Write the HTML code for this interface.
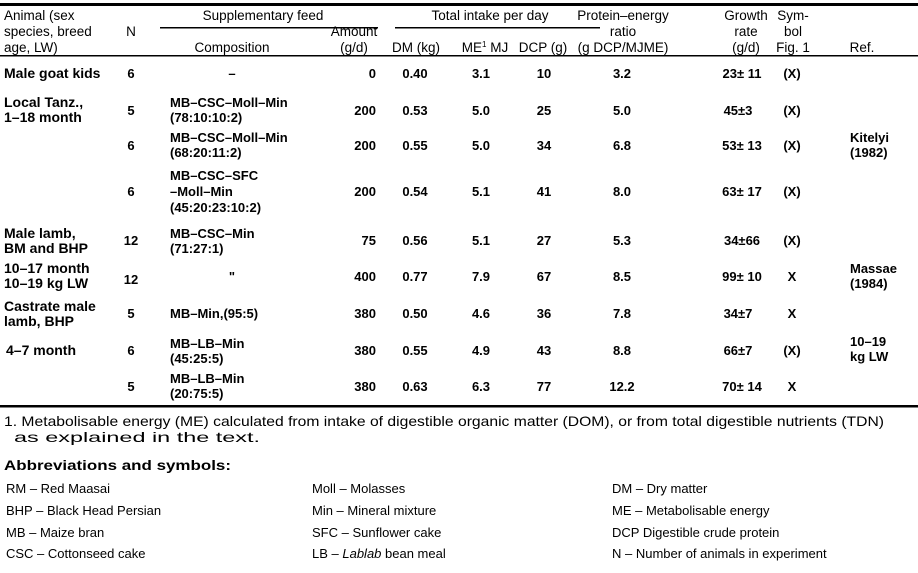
<!DOCTYPE html>
<html><head><meta charset="utf-8"><style>
html,body{margin:0;padding:0;background:#fff;width:918px;height:573px;overflow:hidden}
svg{display:block}
text{font-family:"Liberation Sans",Arial,sans-serif;fill:#000}
.t{font-size:13px;font-weight:bold}
.h{font-size:13.5px}
.f{font-size:13px}
.m{text-anchor:middle}
.e{text-anchor:end}
</style></head><body>
<svg width="918" height="573" viewBox="0 0 918 573">
<rect x="0" y="3" width="918" height="3" fill="#000"/>
<rect x="160" y="27" width="218" height="1.5" fill="#000"/>
<rect x="395" y="27" width="205" height="1.5" fill="#000"/>
<rect x="0" y="55" width="918" height="1.5" fill="#000"/>
<rect x="0" y="405" width="918" height="2.5" fill="#000"/>
<g class="h">
<text x="4" y="20">Animal (sex</text>
<text x="4" y="36">species, breed</text>
<text x="4" y="52">age, LW)</text>
<text x="131" y="36" class="m">N</text>
<text x="263" y="20" class="m">Supplementary feed</text>
<text x="232" y="52" class="m">Composition</text>
<text x="354" y="36" class="m">Amount</text>
<text x="354" y="52" class="m">(g/d)</text>
<text x="490" y="20" class="m">Total intake per day</text>
<text x="416" y="52" class="m">DM (kg)</text>
<text x="485" y="52" class="m">ME<tspan font-size="8" dy="-5">1</tspan><tspan dy="5"> MJ</tspan></text>
<text x="543" y="52" class="m">DCP (g)</text>
<text x="623" y="20" class="m">Protein–energy</text>
<text x="623" y="36" class="m">ratio</text>
<text x="623" y="52" class="m">(g DCP/MJME)</text>
<text x="746" y="20" class="m">Growth</text>
<text x="746" y="36" class="m">rate</text>
<text x="746" y="52" class="m">(g/d)</text>
<text x="793" y="20" class="m">Sym-</text>
<text x="793" y="36" class="m">bol</text>
<text x="793" y="52" class="m">Fig. 1</text>
<text x="862" y="52" class="m">Ref.</text>
</g>
<g class="t">
<g font-size="14">
<text x="4" y="78">Male goat kids</text>
<text x="4" y="107">Local Tanz.,</text><text x="4" y="122">1–18 month</text>
<text x="4" y="238">Male lamb,</text><text x="4" y="253">BM and BHP</text>
<text x="4" y="273">10–17 month</text><text x="4" y="288">10–19 kg LW</text>
<text x="4" y="311">Castrate male</text><text x="4" y="326">lamb, BHP</text>
<text x="6" y="355">4–7 month</text>
</g>
<text x="131" y="78" class="m">6</text>
<text x="131" y="115" class="m">5</text>
<text x="131" y="150" class="m">6</text>
<text x="131" y="196" class="m">6</text>
<text x="131" y="245" class="m">12</text>
<text x="131" y="284" class="m">12</text>
<text x="131" y="318" class="m">5</text>
<text x="131" y="355" class="m">6</text>
<text x="131" y="391" class="m">5</text>

<text x="232" y="78" class="m">–</text>
<text x="170" y="107">MB–CSC–Moll–Min</text><text x="170" y="122">(78:10:10:2)</text>
<text x="170" y="142">MB–CSC–Moll–Min</text><text x="170" y="157">(68:20:11:2)</text>
<text x="170" y="180">MB–CSC–SFC</text><text x="170" y="196">–Moll–Min</text><text x="170" y="212">(45:20:23:10:2)</text>
<text x="170" y="238">MB–CSC–Min</text><text x="170" y="253">(71:27:1)</text>
<text x="232" y="281" class="m">"</text>
<text x="170" y="318">MB–Min,(95:5)</text>
<text x="170" y="348">MB–LB–Min</text><text x="170" y="363">(45:25:5)</text>
<text x="170" y="383">MB–LB–Min</text><text x="170" y="398">(20:75:5)</text>

<g class="e">
<text x="376" y="78">0</text><text x="376" y="115">200</text><text x="376" y="150">200</text>
<text x="376" y="196">200</text><text x="376" y="245">75</text><text x="376" y="281">400</text>
<text x="376" y="318">380</text><text x="376" y="355">380</text><text x="376" y="391">380</text>
</g>
<g class="m">
<text x="415" y="78">0.40</text><text x="415" y="115">0.53</text><text x="415" y="150">0.55</text>
<text x="415" y="196">0.54</text><text x="415" y="245">0.56</text><text x="415" y="281">0.77</text>
<text x="415" y="318">0.50</text><text x="415" y="355">0.55</text><text x="415" y="391">0.63</text>

<text x="481" y="78">3.1</text><text x="481" y="115">5.0</text><text x="481" y="150">5.0</text>
<text x="481" y="196">5.1</text><text x="481" y="245">5.1</text><text x="481" y="281">7.9</text>
<text x="481" y="318">4.6</text><text x="481" y="355">4.9</text><text x="481" y="391">6.3</text>

<text x="544" y="78">10</text><text x="544" y="115">25</text><text x="544" y="150">34</text>
<text x="544" y="196">41</text><text x="544" y="245">27</text><text x="544" y="281">67</text>
<text x="544" y="318">36</text><text x="544" y="355">43</text><text x="544" y="391">77</text>

<text x="622" y="78">3.2</text><text x="622" y="115">5.0</text><text x="622" y="150">6.8</text>
<text x="622" y="196">8.0</text><text x="622" y="245">5.3</text><text x="622" y="281">8.5</text>
<text x="622" y="318">7.8</text><text x="622" y="355">8.8</text><text x="622" y="391">12.2</text>

<text x="742" y="78">23± 11</text><text x="738" y="115">45±3</text><text x="742" y="150">53± 13</text>
<text x="742" y="196">63± 17</text><text x="742" y="245">34±66</text><text x="742" y="281">99± 10</text>
<text x="738" y="318">34±7</text><text x="738" y="355">66±7</text><text x="742" y="391">70± 14</text>

<text x="792" y="78">(X)</text><text x="792" y="115">(X)</text><text x="792" y="150">(X)</text>
<text x="792" y="196">(X)</text><text x="792" y="245">(X)</text><text x="792" y="281">X</text>
<text x="792" y="318">X</text><text x="792" y="355">(X)</text><text x="792" y="391">X</text>
</g>
<text x="850" y="142">Kitelyi</text><text x="850" y="157">(1982)</text>
<text x="850" y="273">Massae</text><text x="850" y="288">(1984)</text>
<text x="850" y="346">10–19</text><text x="850" y="361">kg LW</text>
</g>
<g class="f">
<text x="4" y="426" font-size="14" textLength="880" lengthAdjust="spacingAndGlyphs">1. Metabolisable energy (ME) calculated from intake of digestible organic matter (DOM), or from total digestible nutrients (TDN)</text>
<text x="14" y="442" font-size="14" textLength="246" lengthAdjust="spacingAndGlyphs">as explained in the text.</text>
<text x="4" y="470" font-size="14" font-weight="bold" textLength="227" lengthAdjust="spacingAndGlyphs">Abbreviations and symbols:</text>
<text x="6" y="493">RM – Red Maasai</text>
<text x="6" y="515">BHP – Black Head Persian</text>
<text x="6" y="537">MB – Maize bran</text>
<text x="6" y="558">CSC – Cottonseed cake</text>
<text x="312" y="493">Moll – Molasses</text>
<text x="312" y="515">Min – Mineral mixture</text>
<text x="312" y="537">SFC – Sunflower cake</text>
<text x="312" y="558">LB – <tspan font-style="italic">Lablab</tspan> bean meal</text>
<text x="612" y="493">DM – Dry matter</text>
<text x="612" y="515">ME – Metabolisable energy</text>
<text x="612" y="537">DCP    Digestible crude protein</text>
<text x="612" y="558">N – Number of animals in experiment</text>
</g>
</svg>
</body></html>
